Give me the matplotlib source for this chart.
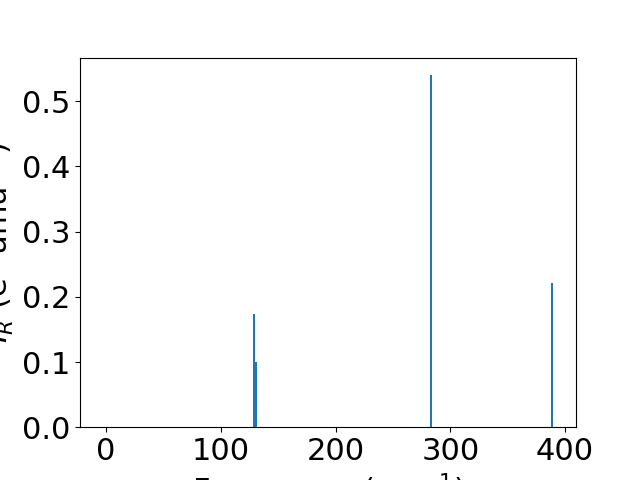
import matplotlib
matplotlib.use("Agg")
import matplotlib.pyplot as plt

frequencies = [128.8, 130.3, 283.2, 388.7]
intensities = [0.174, 0.100, 0.540, 0.221]

plt.rcParams['font.size'] = 22
fig, ax = plt.subplots(figsize=(6.4, 4.8), dpi=100)
ax.bar(frequencies, intensities, width=2.0, color='#1f77b4')
ax.set_xlim(-22.8, 409.6)
ax.set_xlabel('Frequency (cm$^{-1}$)')
ax.set_ylabel('$I_R$ (e$^2$ amu$^{-1}$)')
fig.savefig('out.png', dpi=100)
